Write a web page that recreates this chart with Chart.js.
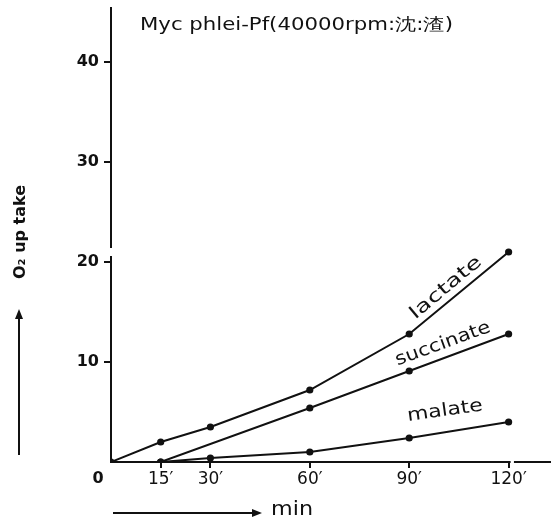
<!DOCTYPE html>
<html>
<head>
<meta charset="utf-8">
<script src="https://cdn.jsdelivr.net/npm/chart.js@4/dist/chart.umd.min.js"></script>
<style>
html,body{margin:0;padding:0;background:#fff;}
#wrap{width:551px;height:518px;position:relative;}
</style>
</head>
<body>
<div id="wrap"><canvas id="o2Chart" width="551" height="518"></canvas></div>
<script>

/* values */
const minutes=[0,15,30,60,90,120];
const lactate=[0,2.0,3.5,7.2,12.8,21.0];
const succinate=[null,0,null,5.4,9.1,12.8];
const malate=[null,0,0.4,1.0,2.4,4.0];

const xTicks=[15,30,60,90,120];
const yTicks=[10,20,30,40];

const titleText="Myc phlei-Pf(40000rpm:沈:渣)";
const yTitle="O₂ up take";
const xTitle="min";

function toPoints(arr){
  let pts=[];
  for(let i=0;i<minutes.length;i++){
    if(arr[i]!==null) pts.push({x:minutes[i],y:arr[i]});
  }
  return pts;
}

function lineSet(label,arr){
  return {
    label:label,
    data:toPoints(arr),
    borderColor:"#111",
    backgroundColor:"#111",
    borderWidth:2,
    pointRadius:2.6,
    pointHoverRadius:2.6,
    tension:0,
    fill:false
  };
}

// text stretched sideways to a given width
function wideText(ctx,txt,x,y,w){
  const m=ctx.measureText(txt).width;
  ctx.save();
  ctx.translate(x,y);
  ctx.scale(w/m,1);
  ctx.fillText(txt,0,0);
  ctx.restore();
}

/* title, axis names, arrows, curve names, axis breaks */
const decor={
  id:"decor",
  afterDraw(chart){
    const ctx=chart.ctx;
    const xs=chart.scales.x, ys=chart.scales.y;
    ctx.save();
    ctx.fillStyle="#111";
    ctx.strokeStyle="#111";

    // x axis runs on to the edge
    ctx.lineWidth=2;
    ctx.beginPath();
    ctx.moveTo(xs.right-1,ys.bottom);ctx.lineTo(chart.width,ys.bottom);
    ctx.stroke();

    // axis breaks
    ctx.fillStyle="#fff";
    ctx.fillRect(xs.left-3,ys.getPixelForValue(21.4),6,ys.getPixelForValue(20.6)-ys.getPixelForValue(21.4));
    ctx.fillRect(xs.getPixelForValue(120.6),ys.bottom-3,xs.getPixelForValue(121.6)-xs.getPixelForValue(120.6),6);
    ctx.fillStyle="#111";

    // title
    ctx.font="17px 'DejaVu Sans'";
    ctx.textAlign="left";
    ctx.textBaseline="middle";
    wideText(ctx,titleText,140,26,313);

    // origin label
    ctx.font="bold 16px 'DejaVu Sans'";
    ctx.textAlign="center";
    ctx.fillText("0",xs.getPixelForValue(0)-13,479);

    // y axis name + arrow
    ctx.save();
    ctx.translate(21,232);
    ctx.rotate(-Math.PI/2);
    ctx.font="bold 16px 'DejaVu Sans'";
    ctx.textAlign="center";
    ctx.fillText(yTitle,0,0);
    ctx.restore();
    ctx.beginPath();
    ctx.moveTo(19,455);ctx.lineTo(19,314);
    ctx.stroke();
    ctx.beginPath();
    ctx.moveTo(19,309);ctx.lineTo(15,319);ctx.lineTo(23,319);ctx.closePath();
    ctx.fill();

    // x axis name + arrow
    ctx.beginPath();
    ctx.moveTo(113,513);ctx.lineTo(255,513);
    ctx.stroke();
    ctx.beginPath();
    ctx.moveTo(262,513);ctx.lineTo(252,509);ctx.lineTo(252,517);ctx.closePath();
    ctx.fill();
    ctx.font="20px 'DejaVu Sans'";
    ctx.textAlign="left";
    wideText(ctx,xTitle,271,510,42);

    // curve names
    const names=[["lactate",446,288,-40,88],["succinate",443,344,-20,100],["malate",445,411,-8,76]];
    ctx.font="18px 'DejaVu Sans'";
    ctx.textAlign="left";
    names.forEach(n=>{
      ctx.save();
      ctx.translate(n[1],n[2]);
      ctx.rotate(n[3]*Math.PI/180);
      wideText(ctx,n[0],-n[4]/2,0,n[4]);
      ctx.restore();
    });
    ctx.restore();
  }
};

let chart;

function initChart(){
  const ctx=document.getElementById("o2Chart").getContext("2d");
  chart=new Chart(ctx,{
    type:"line",
    data:{
      datasets:[
        lineSet("lactate",lactate),
        lineSet("succinate",succinate),
        lineSet("malate",malate)
      ]
    },
    options:{
      responsive:false,
      animation:false,
      spanGaps:true,
      layout:{padding:{top:8,right:0,left:0,bottom:0}},
      plugins:{legend:{display:false},tooltip:{enabled:false},title:{display:false}},
      scales:{
        x:{
          type:"linear",
          min:0,max:131.4,
          afterFit(s){s.height=56;s.paddingLeft=0;s.paddingRight=0;},
          afterBuildTicks(s){s.ticks=xTicks.map(v=>({value:v}));},
          grid:{display:true,drawOnChartArea:false,drawTicks:true,tickLength:6,color:"#111",lineWidth:2},
          border:{display:true,color:"#111",width:2},
          ticks:{
            color:"#111",
            padding:1,
            maxRotation:0,
            font:{family:"DejaVu Sans",size:17},
            callback:v=>v+"′"
          }
        },
        y:{
          type:"linear",
          min:0,max:45.4,
          afterFit(s){s.width=111;s.paddingTop=0;s.paddingBottom=0;},
          afterBuildTicks(s){s.ticks=yTicks.map(v=>({value:v}));},
          grid:{display:true,drawOnChartArea:false,drawTicks:true,tickLength:7,color:"#111",lineWidth:2},
          border:{display:true,color:"#111",width:2},
          ticks:{
            color:"#111",
            padding:5,
            font:{family:"DejaVu Sans",size:16,weight:"bold"}
          }
        }
      }
    },
    plugins:[decor]
  });
}

window.onload=function(){
  initChart();
};

</script>
</body>
</html>
